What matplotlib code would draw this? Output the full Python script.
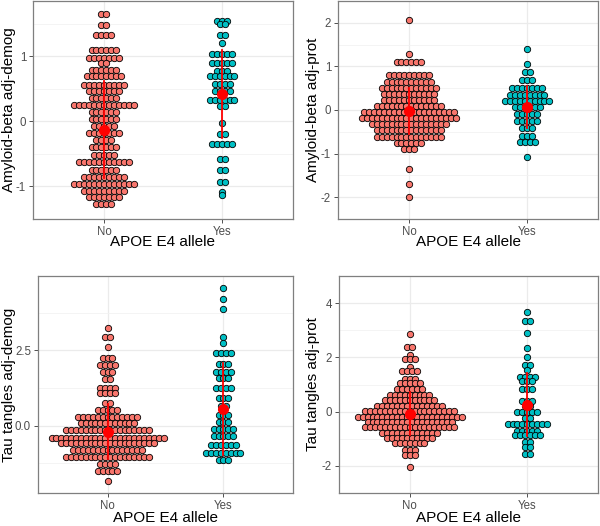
import numpy as np
import matplotlib
matplotlib.use('Agg')
import matplotlib.pyplot as plt

plt.rcParams['axes.unicode_minus'] = False
plt.rcParams['font.family'] = ['Liberation Sans', 'DejaVu Sans']

groups = ['No', 'Yes']
col_no = '#F8766D'
col_yes = '#00BFC4'

# ---- Amyloid-beta adj-demog ----
ab_demog_no_y = [1.65, 1.48, 1.32, 1.10, 0.98, 0.89, 0.79, 0.69, 0.56, 0.46, 0.36, 0.25,
                 0.15, 0.03, -0.07, -0.18, -0.29, -0.40, -0.51, -0.63, -0.75, -0.85,
                 -0.96, -1.07, -1.16, -1.27]
ab_demog_no_n = [2, 2, 4, 6, 7, 2, 6, 8, 9, 7, 6, 13, 6, 6, 5, 7, 4, 6, 5, 11, 6, 9, 13, 9, 7, 4]
ab_demog_yes_y = [1.55, 1.49, 1.33, 1.21, 1.04, 0.90, 0.78, 0.69, 0.58, 0.46, 0.33, 0.23,
                  -0.02, -0.20, -0.34, -0.58, -0.75, -0.93, -1.08, -1.13]
ab_demog_yes_n = [3, 2, 2, 1, 5, 5, 3, 6, 4, 4, 6, 2, 1, 2, 5, 2, 2, 2, 1, 1]
ab_demog_mean = [-0.13, 0.42]
ab_demog_sd = [0.745, 0.67]

# ---- Amyloid-beta adj-prot ----
ab_prot_no_y = [2.06, 1.29, 1.10, 0.80, 0.65, 0.51, 0.37, 0.23, 0.09, -0.05, -0.18, -0.33,
                -0.47, -0.61, -0.75, -0.90, -1.36, -1.70, -2.00]
ab_prot_no_n = [1, 1, 6, 9, 10, 12, 11, 11, 14, 19, 20, 16, 14, 14, 6, 3, 1, 1, 1]
ab_prot_yes_y = [1.40, 1.05, 0.87, 0.68, 0.50, 0.34, 0.20, 0.08, -0.10, -0.25, -0.41,
                 -0.59, -0.73, -1.07]
ab_prot_yes_n = [1, 1, 2, 3, 7, 8, 10, 6, 5, 5, 3, 3, 4, 1]
ab_prot_mean = [-0.02, 0.06]
ab_prot_sd = [0.525, 0.48]

# ---- Tau tangles adj-demog ----
tau_demog_no_y = [3.26, 2.95, 2.62, 2.26, 2.03, 1.79, 1.54, 1.24, 1.09, 0.76, 0.54, 0.30,
                  0.08, -0.14, -0.39, -0.58, -0.81, -1.03, -1.27, -1.49, -1.83]
tau_demog_no_n = [1, 2, 1, 3, 4, 3, 2, 4, 4, 2, 5, 13, 12, 18, 24, 20, 15, 18, 4, 5, 1]
tau_demog_yes_y = [4.56, 4.22, 3.87, 2.95, 2.75, 2.43, 2.05, 1.79, 1.60, 1.27, 0.91, 0.66,
                   0.35, 0.13, -0.09, -0.34, -0.64, -0.90, -1.14]
tau_demog_yes_n = [1, 1, 1, 1, 1, 4, 3, 4, 3, 4, 3, 2, 3, 3, 5, 5, 6, 8, 3]
tau_demog_mean = [-0.19, 0.55]
tau_demog_sd = [0.915, 1.52]

# ---- Tau tangles adj-prot ----
tau_prot_no_y = [2.88, 2.38, 2.10, 1.95, 1.66, 1.48, 1.21, 1.05, 0.83, 0.63, 0.42, 0.22,
                 0.02, -0.18, -0.38, -0.58, -0.78, -0.97, -1.15, -1.40, -1.59, -2.04]
tau_prot_no_n = [1, 2, 1, 3, 1, 4, 3, 5, 6, 9, 11, 14, 19, 22, 18, 19, 12, 10, 7, 3, 3, 1]
tau_prot_yes_y = [3.68, 3.35, 2.90, 2.36, 2.03, 1.73, 1.54, 1.29, 1.12, 0.82, 0.40, 0.21,
                  0.00, -0.22, -0.45, -0.70, -0.88, -1.11, -1.31, -1.56]
tau_prot_yes_n = [1, 2, 1, 1, 1, 2, 1, 4, 3, 3, 3, 2, 5, 2, 9, 5, 6, 2, 2, 2]
tau_prot_mean = [-0.07, 0.25]
tau_prot_sd = [0.79, 1.165]

panels = [
    dict(label='Amyloid-beta adj-demog', no=(ab_demog_no_y, ab_demog_no_n),
         yes=(ab_demog_yes_y, ab_demog_yes_n), mean=ab_demog_mean, sd=ab_demog_sd,
         ylim=(-1.47, 1.85), ticks=[-1, 0, 1], fmt='{:.0f}',
         rect=[33, 1, 293, 219], ylab_x=9, xlab_y=242),
    dict(label='Amyloid-beta adj-prot', no=(ab_prot_no_y, ab_prot_no_n),
         yes=(ab_prot_yes_y, ab_prot_yes_n), mean=ab_prot_mean, sd=ab_prot_sd,
         ylim=(-2.28, 2.35), ticks=[-2, -1, 0, 1, 2], fmt='{:.0f}',
         rect=[338, 1, 598, 219], ylab_x=313, xlab_y=242),
    dict(label='Tau tangles adj-demog', no=(tau_demog_no_y, tau_demog_no_n),
         yes=(tau_demog_yes_y, tau_demog_yes_n), mean=tau_demog_mean, sd=tau_demog_sd,
         ylim=(-2.23, 4.97), ticks=[0, 2.5], fmt='{:.1f}',
         rect=[38, 276, 293, 493], ylab_x=9, xlab_y=518),
    dict(label='Tau tangles adj-prot', no=(tau_prot_no_y, tau_prot_no_n),
         yes=(tau_prot_yes_y, tau_prot_yes_n), mean=tau_prot_mean, sd=tau_prot_sd,
         ylim=(-2.40, 4.05), ticks=[-2, 0, 2, 4], fmt='{:.0f}',
         rect=[339, 276, 598, 493], ylab_x=313, xlab_y=518),
]

W, H = 600, 526
fig = plt.figure(figsize=(W / 100, H / 100), dpi=100)
spacing = 0.042


def swarm(ax, center, ys, ns, color):
    xs, yy = [], []
    for y, n in zip(ys, ns):
        for i in range(n):
            xs.append(center + (i - (n - 1) / 2) * spacing)
            yy.append(y)
    ax.scatter(xs, yy, s=21, c=color, edgecolors='black', linewidths=0.6, zorder=3)


for p in panels:
    l, t, r, b = p['rect']
    ax = fig.add_axes([l / W, 1 - b / H, (r - l) / W, (b - t) / H])
    swarm(ax, 1, *p['no'], col_no)
    swarm(ax, 2, *p['yes'], col_yes)
    for i in range(2):
        ax.plot([i + 1, i + 1], [p['mean'][i] - p['sd'][i], p['mean'][i] + p['sd'][i]],
                color='red', lw=1.3, zorder=4)
        ax.plot(i + 1, p['mean'][i], 'o', color='red', ms=7, zorder=5)
    ax.set_xlim(0.4, 2.6)
    ax.set_ylim(*p['ylim'])
    ax.set_xticks([1, 2])
    ax.set_xticklabels(groups)
    ax.set_yticks(p['ticks'])
    ax.set_yticklabels([p['fmt'].format(v) for v in p['ticks']])
    tk = p['ticks']
    step = tk[1] - tk[0] if len(tk) > 1 else 1
    minors = [v + step / 2 for v in [tk[0] - step] + tk]
    ax.set_yticks(minors, minor=True)
    ax.tick_params(axis='y', which='minor', length=0)
    ax.set_facecolor('white')
    ax.grid(True, which='major', color='#EBEBEB', lw=0.9, zorder=0)
    ax.grid(True, which='minor', axis='y', color='#F2F2F2', lw=0.6, zorder=0)
    ax.set_axisbelow(True)
    for s in ax.spines.values():
        s.set_color('#7F7F7F')
        s.set_linewidth(0.9)
    ax.tick_params(axis='both', which='major', labelsize=8.3, labelcolor='#4D4D4D',
                   color='#333333', length=3, width=0.6, pad=2)
    ax.set_xlabel('APOE E4 allele', fontsize=11, va='center')
    ax.set_ylabel(p['label'], fontsize=11, va='center')
    ax.xaxis.set_label_coords(0.5, (b - p['xlab_y']) / (b - t))
    ax.yaxis.set_label_coords((p['ylab_x'] - l) / (r - l), 0.5)

fig.savefig('out.png', dpi=100)
